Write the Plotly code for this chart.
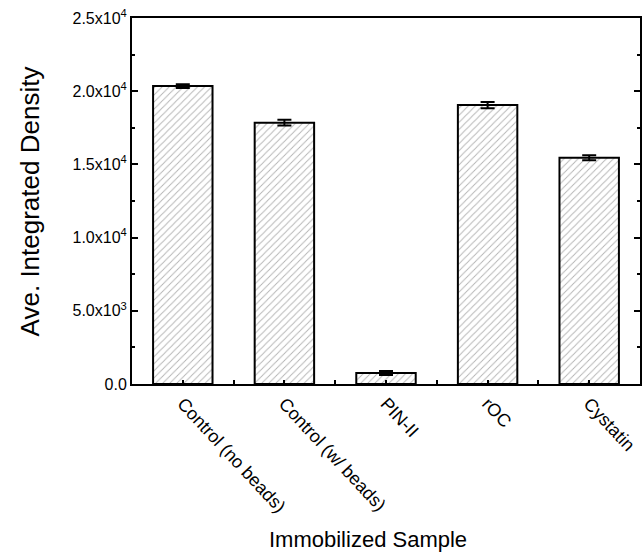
import plotly.graph_objects as go

categories = ["Control (no beads)", "Control (w/ beads)", "PIN-II", "rOC", "Cystatin"]
values = [20350, 17850, 750, 19050, 15450]
errors = [130, 200, 140, 220, 170]
ytick_vals = [0, 5000, 10000, 15000, 20000, 25000]
ytick_text = ["0.0", "5.0x10<sup>3</sup>", "1.0x10<sup>4</sup>", "1.5x10<sup>4</sup>",
              "2.0x10<sup>4</sup>", "2.5x10<sup>4</sup>"]

xpos = list(range(len(categories)))
font = "Liberation Sans, Arial, sans-serif"

fig = go.Figure()
fig.add_trace(go.Bar(
    x=xpos, y=values, width=0.585,
    marker=dict(color="white", line=dict(color="black", width=2),
                pattern=dict(shape="/", fgcolor="#666666", bgcolor="white", size=5, solidity=0.18)),
    error_y=dict(type="data", array=errors, color="black", thickness=2, width=7),
))

fig.update_layout(
    width=644, height=556,
    margin=dict(l=132, r=2, t=18, b=172),
    plot_bgcolor="white", paper_bgcolor="white",
    showlegend=False,
    font=dict(family=font, color="black", size=16),
)
fig.update_xaxes(
    range=[-0.5, 4.5], tickvals=xpos, ticktext=categories, tickangle=47,
    ticks="inside", ticklen=4, tickwidth=1.5, tickcolor="black",
    showline=True, linecolor="black", linewidth=2, mirror=True,
    showgrid=False, zeroline=False, tickfont=dict(size=18),
    minor=dict(tickvals=[0.5, 1.5, 2.5, 3.5], ticks="inside", ticklen=4, tickwidth=1.5, tickcolor="black", showgrid=False),
)
fig.update_yaxes(
    range=[0, 25000], tickvals=ytick_vals, ticktext=ytick_text,
    ticks="inside", ticklen=6, tickwidth=1.5, tickcolor="black",
    showline=True, linecolor="black", linewidth=2, mirror="ticks",
    showgrid=False, zeroline=False, tickfont=dict(size=16),
    minor=dict(tickvals=[2500, 7500, 12500, 17500, 22500], ticks="inside", ticklen=3, tickwidth=1.5, tickcolor="black", showgrid=False),
)
fig.add_annotation(text="Ave. Integrated Density", xref="paper", yref="paper",
                   x=-0.2, y=0.5, textangle=-90, showarrow=False,
                   font=dict(size=26, family=font), xanchor="center", yanchor="middle")
fig.add_annotation(text="Immobilized Sample", xref="paper", yref="paper",
                   x=0.465, y=-0.425, showarrow=False,
                   font=dict(size=22, family=font), xanchor="center", yanchor="middle")

fig.write_html("out.html")
